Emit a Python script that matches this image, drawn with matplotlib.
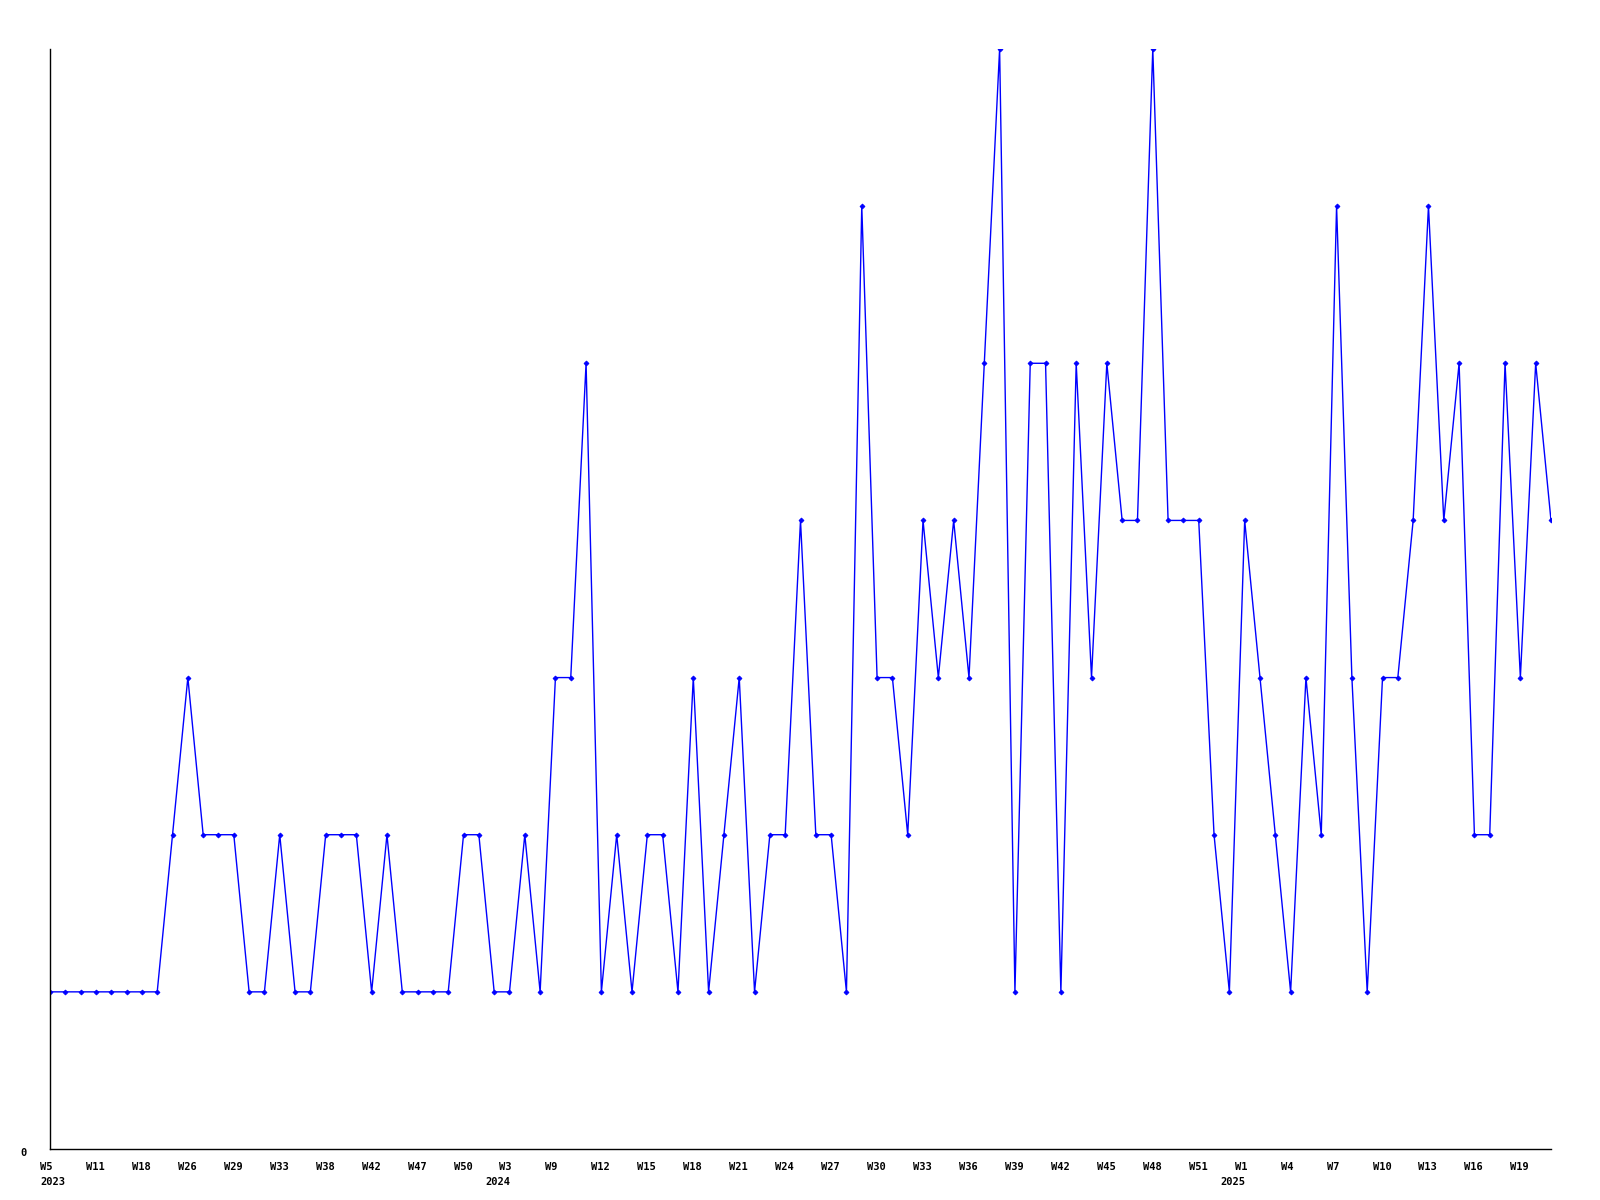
import matplotlib.pyplot as plt
import matplotlib.transforms as mtransforms

# one value per reported week (weeks without data are skipped)
counts = [1, 1, 1, 1, 1, 1, 1, 1, 2, 3,
          2, 2, 2, 1, 1, 2, 1, 1, 2, 2,
          2, 1, 2, 1, 1, 1, 1, 2, 2, 1,
          1, 2, 1, 3, 3, 5, 1, 2, 1, 2,
          2, 1, 3, 1, 2, 3, 1, 2, 2, 4,
          2, 2, 1, 6, 3, 3, 2, 4, 3, 4,
          3, 5, 7, 1, 5, 5, 1, 5, 3, 5,
          4, 4, 7, 4, 4, 4, 2, 1, 4, 3,
          2, 1, 3, 2, 6, 3, 1, 3, 3, 4,
          6, 4, 5, 2, 2, 5, 3, 5, 4]

week_labels = ['W5', 'W11', 'W18', 'W26', 'W29', 'W33', 'W38', 'W42', 'W47', 'W50',
               'W3', 'W9', 'W12', 'W15', 'W18', 'W21', 'W24', 'W27', 'W30', 'W33',
               'W36', 'W39', 'W42', 'W45', 'W48', 'W51', 'W1', 'W4', 'W7', 'W10',
               'W13', 'W16', 'W19']
year_starts = [0, 30, 78]  # index into counts where a new year begins
years = ['2023', '2024', '2025']


def main():
    fig = plt.figure(figsize=(16, 12), dpi=100)
    ax = fig.add_axes([50 / 1600, 1 - 1149 / 1200, 1501 / 1600, 1100 / 1200])

    x = list(range(len(counts)))
    ax.plot(x, counts, color='#0000ff', linewidth=1, marker='D', markersize=2.5,
            markeredgewidth=0.6)

    ax.set_xlim(0, len(counts) - 1)
    ax.set_ylim(0, 7)
    for side in ['top', 'right']:
        ax.spines[side].set_visible(False)
    for side in ['left', 'bottom']:
        ax.spines[side].set_linewidth(1)
        ax.spines[side].set_color('black')

    font = dict(family='DejaVu Sans Mono', fontweight='bold', fontsize=7.5)

    ax.set_yticks([0])
    ax.set_yticklabels(['0'], **font)
    ax.tick_params(axis='y', length=0, pad=17)
    for t in ax.get_yticklabels():
        t.set_transform(t.get_transform() + mtransforms.ScaledTranslation(0, -3 / 100, fig.dpi_scale_trans))

    ax.set_xticks(x[::3])
    ax.set_xticklabels(week_labels, **font)
    ax.tick_params(axis='x', length=0, pad=9)
    shift_left = mtransforms.ScaledTranslation(-10 / 100, 0, fig.dpi_scale_trans)
    for t in ax.get_xticklabels():
        t.set_ha('left')
        t.set_transform(t.get_transform() + shift_left)

    for i, (pos, yr) in enumerate(zip(year_starts, years)):
        if i == 0:
            ax.annotate(yr, xy=(pos, 0), xycoords=('data', 'axes fraction'),
                        xytext=(-10, -28), textcoords='offset pixels',
                        ha='left', va='top', annotation_clip=False, **font)
        else:
            ax.annotate(yr, xy=(pos, 0), xycoords=('data', 'axes fraction'),
                        xytext=(1, -28), textcoords='offset pixels',
                        ha='right', va='top', annotation_clip=False, **font)

    fig.savefig('out.png', dpi=100, facecolor='white')


if __name__ == "__main__":
    main()
